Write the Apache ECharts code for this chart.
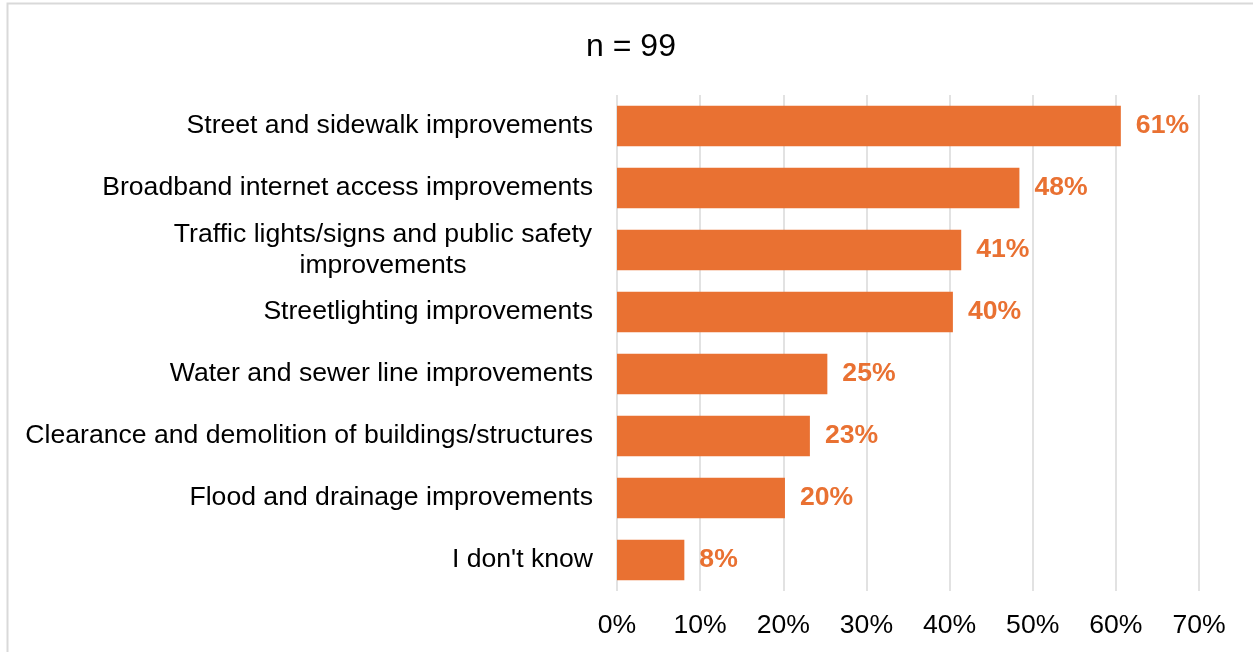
<!DOCTYPE html>
<html>
<head>
<meta charset="utf-8">
<script src="https://cdn.jsdelivr.net/npm/echarts@6/dist/echarts.min.js"></script>
<style>
  html, body { margin: 0; padding: 0; background: #fff; }
  #bar { width: 1253px; height: 652px; }
</style>
</head>
<body>
<div id="bar"></div>
<script>
var categories = [
    'Street and sidewalk improvements',
    'Broadband internet access improvements',
    'Traffic lights/signs and public safety\nimprovements',
    'Streetlighting improvements',
    'Water and sewer line improvements',
    'Clearance and demolition of buildings/structures',
    'Flood and drainage improvements',
    "I don't know"
];
var shares = [60.6, 48.4, 41.4, 40.4, 25.3, 23.2, 20.2, 8.1];
var ticks = [0, 10, 20, 30, 40, 50, 60, 70];

var orange = '#E97132';
var font = 'Arial, "Liberation Sans", sans-serif';

//横向条形图
var bar = echarts.init(document.getElementById('bar'));
bar.setOption({
    animation: false,
    textStyle: { fontFamily: font },
    title: {
        text: 'n = 99',
        left: 626,
        top: 26,
        textAlign: 'center',
        textStyle: { fontSize: 32, fontWeight: 'normal', color: '#000', fontFamily: font }
    },
    graphic: [{
        type: 'rect',
        left: 5, top: 1,
        shape: { width: 1270, height: 670 },
        style: { fill: 'none', stroke: '#d9d9d9', lineWidth: 2 },
        silent: true
    }],
    grid: { left: 617, right: 54, top: 95, bottom: 61 },
    xAxis: {
        type: 'value',
        min: ticks[0],
        max: ticks[ticks.length - 1],
        interval: 10,
        axisLine: { show: false },
        axisTick: { show: false },
        splitLine: { lineStyle: { color: '#d9d9d9', width: 1.5 } },
        axisLabel: {
            margin: 21,
            fontSize: 26.6,
            color: '#000',
            fontFamily: font,
            formatter: '{value}%'
        }
    },
    yAxis: {
        type: 'category',
        inverse: true,
        data: categories,
        axisLine: { show: false },
        axisTick: { show: false },
        axisLabel: {
            margin: 24,
            fontSize: 26.6,
            lineHeight: 31,
            color: '#000',
            fontFamily: font,
            formatter: function (v) {
                return v.indexOf('\n') >= 0 ? '{w|' + v + '}' : v;
            },
            rich: {
                w: { width: 420, align: 'center', fontSize: 26.6, lineHeight: 31, color: '#000', fontFamily: font }
            }
        }
    },
    series: [{
        type: 'bar',
        data: shares,
        barCategoryGap: '35%',
        itemStyle: { color: orange },
        label: {
            show: true,
            position: 'right',
            distance: 15,
            color: orange,
            fontSize: 26.6,
            fontWeight: 'bold',
            fontFamily: font,
            formatter: function (p) { return Math.round(p.value) + '%'; }
        }
    }]
});
</script>
</body>
</html>
